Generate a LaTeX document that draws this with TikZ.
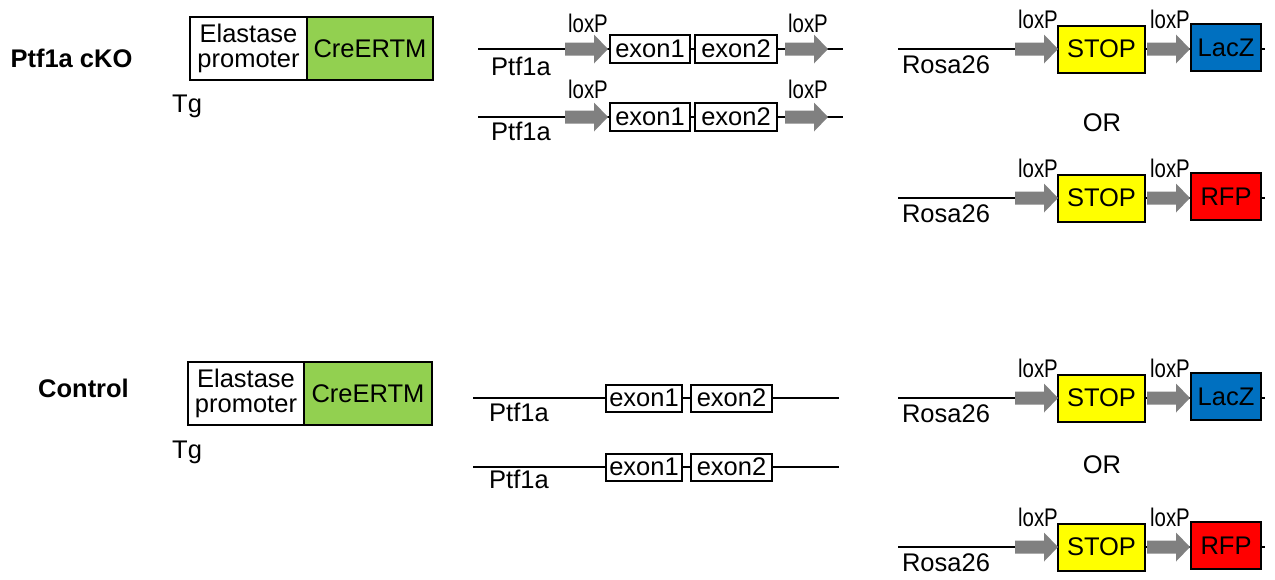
\documentclass[tikz,border=0pt]{standalone}
\usepackage{fontspec}
\setmainfont{Liberation Sans}
\usepackage{graphicx}
\definecolor{creg}{HTML}{92D050}
\definecolor{laczb}{HTML}{0070C0}
\definecolor{loxg}{HTML}{808080}
\definecolor{stopy}{HTML}{FFFF00}
\definecolor{rfpr}{HTML}{FF0000}
\newcommand\fs{\fontsize{25.5}{25}\selectfont}
\newcommand\lox{\scalebox{0.8}[1]{loxP}}
\tikzset{
  dna/.style={line width=2pt},
  box/.style={draw, line width=2pt, inner sep=0pt, font=\fs},
  lbl/.style={inner sep=0pt, font=\fs, anchor=base},
  loxarrow/.pic={\fill[loxg] (0,-6.5) -- (29,-6.5) -- (29,-14.5) -- (43,0) -- (29,14.5) -- (29,6.5) -- (0,6.5) -- cycle;}
}
\begin{document}
\begin{tikzpicture}[x=1pt,y=-1pt]
\useasboundingbox (0,0) rectangle (1275,579);
% group labels
\node[lbl, font=\fs\bfseries] (cko) at (71.5,67) {Ptf1a cKO};
\node[lbl, font=\fs\bfseries] (ctl) at (83.5,397) {Control};
% transgenes
\node[box, minimum width=117, minimum height=63, align=center] (elA) at (248.5,48.5) {Elastase\\promoter};
\node[box, minimum width=126, minimum height=63, fill=creg] (creA) at (370,48.5) {CreERTM};
\node[lbl, anchor=base west] (tgA) at (172,112) {Tg};
\node[box, minimum width=116, minimum height=63, align=center] (elB) at (246,393.5) {Elastase\\promoter};
\node[box, minimum width=128, minimum height=63, fill=creg] (creB) at (368,393.5) {CreERTM};
\node[lbl, anchor=base west] (tgB) at (172,458) {Tg};
% floxed Ptf1a
\foreach \r/\y/\a/\b in {a/49/17/26, b/117/19/23}{
  \coordinate (ps\r) at (478,\y);
  \coordinate (pe\r) at (843,\y);
  \node[box, minimum width=80, minimum height=28] (fe1\r) at (650,\y) {exon1};
  \node[box, minimum width=82, minimum height=28] (fe2\r) at (736,\y) {exon2};
  \draw[dna] (ps\r) -- (fe1\r.west);
  \draw[dna] (fe1\r.east) -- (fe2\r.west);
  \draw[dna] (fe2\r.east) -- (pe\r);
  \pic at (565,\y) {loxarrow};
  \pic at (785,\y) {loxarrow};
  \node[lbl] (fl1\r) at (588,\y-\a) {\lox};
  \node[lbl] (fl2\r) at (808,\y-\a) {\lox};
  \node[lbl] (fp\r) at (521,\y+\b) {Ptf1a};
}
% wild-type Ptf1a
\foreach \r/\y/\b in {a/398/23, b/467/21}{
  \coordinate (ws\r) at (473,\y);
  \coordinate (we\r) at (839,\y);
  \node[box, minimum width=76, minimum height=27] (we1\r) at (644,\y) {exon1};
  \node[box, minimum width=81, minimum height=27] (we2\r) at (731.5,\y) {exon2};
  \draw[dna] (ws\r) -- (we1\r.west);
  \draw[dna] (we1\r.east) -- (we2\r.west);
  \draw[dna] (we2\r.east) -- (we\r);
  \node[lbl] (wp\r) at (519,\y+\b) {Ptf1a};
}
% Rosa26 reporters
\foreach \r/\y/\rep/\col in {a/49/LacZ/laczb, b/198/RFP/rfpr, c/398/LacZ/laczb, d/547/RFP/rfpr}{
  \coordinate (rs\r) at (898,\y);
  \coordinate (re\r) at (1265,\y);
  \node[box, minimum width=87, minimum height=47, fill=stopy] (st\r) at (1101.5,\y) {STOP};
  \node[box, minimum width=70, minimum height=47, fill=\col] (rp\r) at (1226,\y-1.5) {\rep};
  \draw[dna] (rs\r) -- (st\r.west);
  \draw[dna] (st\r.east) -- (rp\r.west |- st\r.east);
  \draw[dna] (rp\r.east |- re\r) -- (re\r);
  \pic at (1015,\y) {loxarrow};
  \pic at (1147,\y) {loxarrow};
  \node[lbl] (rl1\r) at (1038,\y-21) {\lox};
  \node[lbl] (rl2\r) at (1170,\y-21) {\lox};
  \node[lbl] (rn\r) at (946,\y+24) {Rosa26};
}
\node[inner sep=0pt, font=\fs] (orA) at (1102,123) {OR};
\node[inner sep=0pt, font=\fs] (orB) at (1102,465) {OR};
\end{tikzpicture}
\end{document}
